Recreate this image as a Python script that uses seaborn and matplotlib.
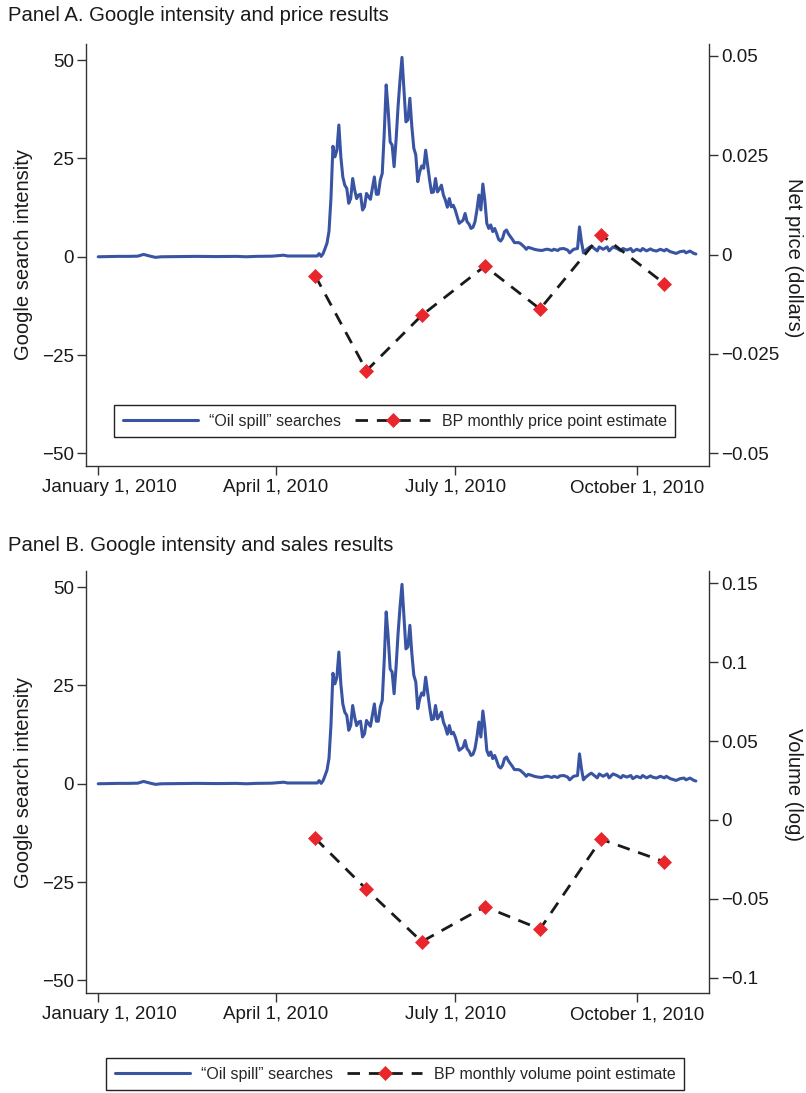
import numpy as np
import pandas as pd
import matplotlib
matplotlib.use("Agg")
import matplotlib.pyplot as plt
import matplotlib.transforms as mtransforms
import seaborn as sns

sns.set_theme(style="ticks")
plt.rcParams['font.family'] = ['Liberation Sans', 'DejaVu Sans']
plt.rcParams['axes.unicode_minus'] = True

START = pd.Timestamp("2010-01-01")

# Google "oil spill" search intensity (day offset from Jan 1, 2010, value)
search_day = [0, 5, 10, 15, 20, 23, 26, 29, 32, 40, 50, 60, 70, 75, 80, 88, 94, 96, 100, 106,
              111, 112, 113, 114, 115, 116, 117, 118, 119, 120, 121, 122, 123, 124, 125, 126,
              127, 128, 129, 130, 131, 132, 133, 134, 135, 136, 137, 138, 139, 140, 141, 142,
              143, 144, 145, 146, 147, 148, 149, 150, 151, 152, 153, 154, 155, 156, 157, 158,
              159, 160, 161, 162, 163, 164, 165, 166, 167, 168, 169, 170, 171, 172, 173, 174,
              175, 176, 177, 178, 179, 180, 181, 182, 183, 184, 185, 186, 187, 188, 189, 190,
              191, 192, 193, 194, 195, 196, 197, 198, 199, 200, 201, 202, 203, 204, 205, 206,
              207, 208, 210, 211, 213, 214, 216, 217, 218, 220, 221, 223, 225, 227, 228, 230,
              231, 233, 234, 236, 238, 239, 241, 242, 243, 244, 245, 246, 247, 249, 250, 251,
              253, 254, 256, 258, 259, 261, 263, 265, 266, 268, 270, 271, 273, 275, 276, 278,
              280, 281, 283, 285, 287, 288, 290, 292, 293, 295, 297, 298, 300, 302, 303]
search_val = [0.0, 0.05, 0.1, 0.1, 0.15, 0.6, 0.2, -0.15, 0.0, 0.05, 0.1, 0.05, 0.1, 0.0, 0.1, 0.15, 0.4, 0.2, 0.2, 0.2,
              0.2, 0.8, 0.1, 0.8, 2.1, 3.5, 6.5, 15.0, 28.1, 25.4, 27.1, 33.5, 25.4, 20.3, 18.2, 17.4,
              13.6, 14.8, 19.9, 17.0, 14.8, 15.7, 15.9, 11.9, 12.7, 16.1, 15.3, 14.6, 17.4, 20.3, 15.9, 15.9,
              19.5, 21.2, 31.4, 43.7, 37.3, 29.2, 28.4, 22.9, 29.7, 38.1, 44.9, 50.7, 42.4, 34.3, 34.8, 40.3,
              33.1, 27.6, 25.9, 19.1, 21.6, 23.1, 22.5, 27.1, 23.3, 19.5, 16.3, 16.5, 19.9, 16.5, 17.2, 18.2,
              15.7, 14.4, 12.6, 14.8, 12.7, 13.1, 11.9, 10.2, 8.5, 8.9, 9.3, 11.0, 8.9, 8.3, 7.2, 7.5,
              8.9, 11.9, 15.7, 11.9, 18.5, 14.4, 8.5, 7.2, 8.1, 6.4, 7.2, 5.9, 4.4, 4.0, 4.7, 6.4,
              6.8, 5.8, 4.4, 3.6, 3.6, 3.4, 2.5, 1.9, 2.4, 2.1, 1.9, 1.7, 1.6, 1.9, 1.9, 1.6,
              1.9, 1.6, 2.0, 2.1, 1.7, 1.0, 1.9, 2.0, 2.1, 7.6, 3.8, 1.0, 1.6, 2.4, 2.7, 2.3,
              1.5, 2.5, 1.9, 2.5, 1.5, 2.5, 2.1, 1.5, 2.1, 1.7, 2.1, 1.3, 1.9, 1.5, 2.1, 1.5,
              2.0, 1.7, 1.45, 1.9, 1.5, 1.9, 1.3, 1.0, 0.85, 1.3, 1.45, 1.0, 1.45, 0.85, 0.7]

# BP monthly point estimates
estimate_dates = ["2010-04-21", "2010-05-17", "2010-06-14", "2010-07-16",
                  "2010-08-13", "2010-09-13", "2010-10-15"]
price_estimate = [-0.0053, -0.0292, -0.0153, -0.0029, -0.0137, 0.0050, -0.0073]
volume_estimate = [-0.0116, -0.0439, -0.0770, -0.0549, -0.0690, -0.0122, -0.0264]

tick_dates = ["2010-01-01", "2010-04-01", "2010-07-01", "2010-10-01"]
tick_labels = ["January 1, 2010", "April 1, 2010", "July 1, 2010", "October 1, 2010"]
left_ticks = [-50, -25, 0, 25, 50]
left_ticklabels = ["\u221250", "\u221225", "0", "25", "50"]
price_ticks = [-0.05, -0.025, 0, 0.025, 0.05]
price_ticklabels = ["\u22120.05", "\u22120.025", "0", "0.025", "0.05"]
volume_ticks = [-0.1, -0.05, 0, 0.05, 0.1, 0.15]
volume_ticklabels = ["\u22120.1", "\u22120.05", "0", "0.05", "0.1", "0.15"]

BLUE = "#3A54A4"
RED = "#E8262B"
BLACK = "#1A1A1A"
SPINE = "#333333"

search_df = pd.DataFrame({
    "date": START + pd.to_timedelta(search_day, unit="D"),
    "intensity": search_val,
})

W, H = 806, 1093
fig = plt.figure(figsize=(W / 100, H / 100), dpi=100)


def draw_panel(top_px, est_vals, rticks, rticklabels, rlim, rlabel, est_label, title, title_base):
    ax = fig.add_axes([86 / W, 1 - (top_px + 422) / H, 622.7 / W, 422 / H])
    sns.lineplot(data=search_df, x="date", y="intensity", ax=ax, color=BLUE, lw=2.2,
                 estimator=None, errorbar=None)
    ax.set_xlim(START + pd.Timedelta(days=-6.2), START + pd.Timedelta(days=309.5))
    ax.set_ylim(-53.2, 54.1)
    ax.set_yticks(left_ticks)
    ax.set_yticklabels(left_ticklabels)
    ax.set_xticks(pd.to_datetime(tick_dates))
    ax.set_xticklabels(tick_labels)
    ax.set_xlabel("")
    ax.set_ylabel("Google search intensity", fontsize=14.5, color=BLACK, va="center", ha="center")
    ax.yaxis.set_label_coords(-0.0996, 0.5)
    for s in ["top", "right"]:
        ax.spines[s].set_visible(False)
    for s in ["left", "bottom"]:
        ax.spines[s].set_color(SPINE)
        ax.spines[s].set_linewidth(1.0)
    ax.tick_params(axis="both", direction="out", length=6.2, width=1.0, color=SPINE,
                   labelsize=13.5, labelcolor=BLACK)
    ax.tick_params(axis="y", pad=2.5)
    ax.tick_params(axis="x", pad=3.5)
    # first date label sits slightly right of its tick, as in the original
    first = ax.get_xticklabels()[0]
    first.set_transform(first.get_transform() +
                        mtransforms.ScaledTranslation(0.11, 0, fig.dpi_scale_trans))

    ax2 = ax.twinx()
    est_df = pd.DataFrame({"date": pd.to_datetime(estimate_dates), "value": est_vals})
    sns.lineplot(data=est_df, x="date", y="value", ax=ax2, color=BLACK, lw=2.0,
                 linestyle=(0, (4.5, 3.2)), marker="D", markersize=6.8,
                 markerfacecolor=RED, markeredgecolor=RED, markeredgewidth=0.5,
                 estimator=None, errorbar=None)
    ax2.set_ylim(*rlim)
    ax2.set_yticks(rticks)
    ax2.set_yticklabels(rticklabels)
    ax2.set_xlabel("")
    ax2.set_ylabel(rlabel, fontsize=14.5, color=BLACK, rotation=270, va="center", ha="center")
    ax2.yaxis.set_label_coords(1.1354, 0.493)
    for s in ["top", "left", "bottom"]:
        ax2.spines[s].set_visible(False)
    ax2.spines["right"].set_color(SPINE)
    ax2.spines["right"].set_linewidth(1.0)
    ax2.tick_params(axis="y", direction="out", length=6.2, width=1.0, color=SPINE,
                    labelsize=13.5, labelcolor=BLACK, pad=3)

    fig.text(8 / W, 1 - title_base / H, title, fontsize=14.6, color=BLACK,
             ha="left", va="baseline")

    handles = [ax.get_lines()[0], ax2.get_lines()[0]]
    labels = ["\u201cOil spill\u201d searches", est_label]
    return ax, ax2, handles, labels


leg_kw = dict(ncol=2, frameon=True, fancybox=False, edgecolor="#222222", framealpha=1,
              fontsize=11.5, handlelength=4.7, handletextpad=0.7, columnspacing=0.9,
              borderpad=0.55, borderaxespad=0, numpoints=1)

axA, axA2, hA, lA = draw_panel(44, price_estimate, price_ticks, price_ticklabels,
                               (-0.0532, 0.0530), "Net price (dollars)",
                               "BP monthly price point estimate",
                               "Panel A. Google intensity and price results", 21)
legA = axA2.legend(hA, lA, loc="center", bbox_to_anchor=(0.4958, 0.1066),
                   bbox_transform=axA2.transAxes, **leg_kw)
legA.get_frame().set_linewidth(1.0)

axB, axB2, hB, lB = draw_panel(571, volume_estimate, volume_ticks, volume_ticklabels,
                               (-0.1095, 0.1576), "Volume (log)",
                               "BP monthly volume point estimate",
                               "Panel B. Google intensity and sales results", 551)
legB = fig.legend(hB, lB, loc="center", bbox_to_anchor=(395.1 / W, 1 - 1074 / H),
                  **leg_kw)
legB.get_frame().set_linewidth(1.0)

fig.savefig("out.png", dpi=100)
